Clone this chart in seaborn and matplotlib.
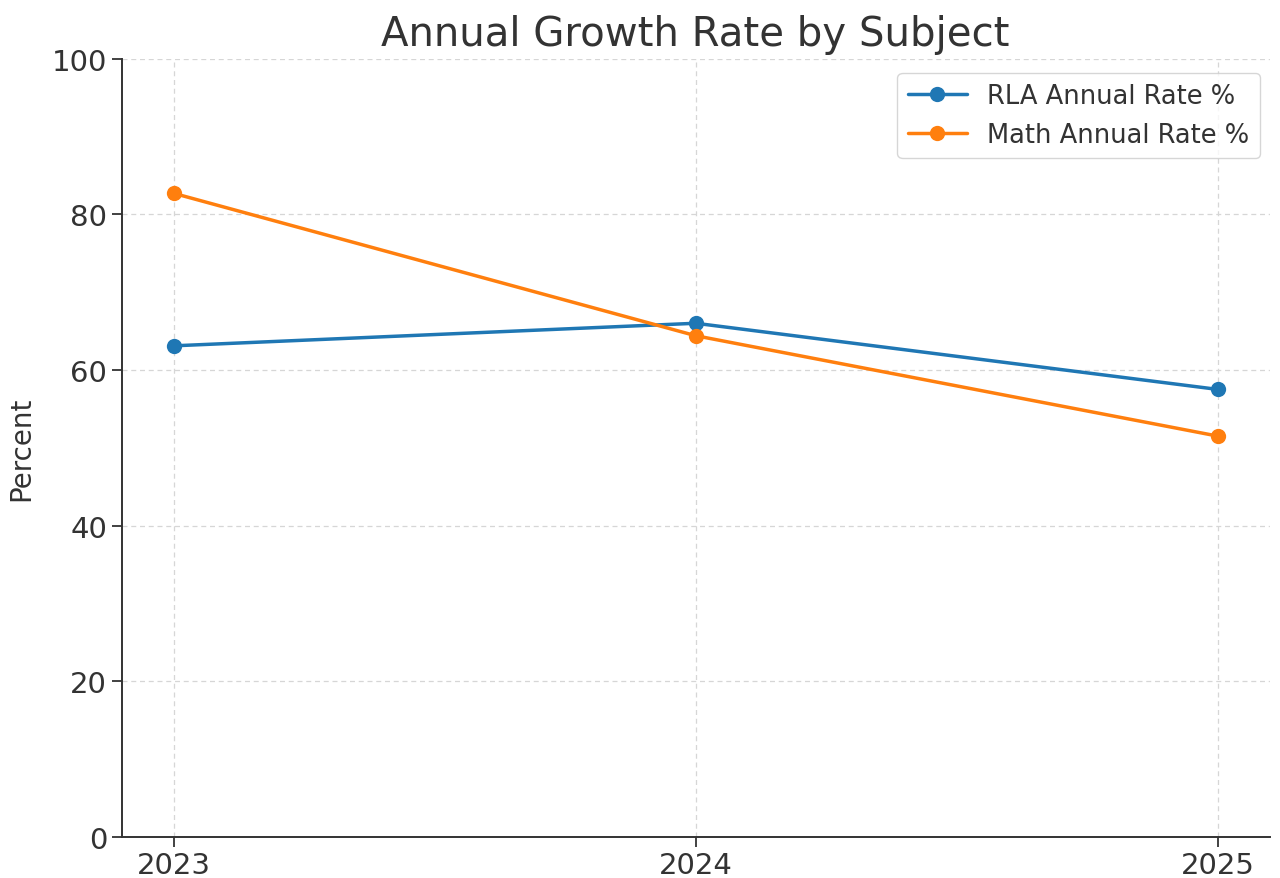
import matplotlib
matplotlib.use("Agg")
import matplotlib.pyplot as plt
import seaborn as sns
import pandas as pd

years = [2023, 2024, 2025]
rla_rate = [63.1, 66.0, 57.5]
math_rate = [82.7, 64.4, 51.5]
series_names = ["RLA Annual Rate %", "Math Annual Rate %"]

df = pd.DataFrame({
    "Year": years * 2,
    "Rate": rla_rate + math_rate,
    "Series": [series_names[0]] * 3 + [series_names[1]] * 3,
})

sns.set_style("ticks")
plt.rcParams["font.family"] = ["DejaVu Sans"]
text_color = "#333333"
plt.rcParams["text.color"] = text_color
plt.rcParams["axes.labelcolor"] = text_color
plt.rcParams["xtick.color"] = text_color
plt.rcParams["ytick.color"] = text_color

fig, ax = plt.subplots(figsize=(12.8, 8.79), dpi=100)
sns.lineplot(data=df, x="Year", y="Rate", hue="Series", marker="o",
             palette=["#1f77b4", "#ff7f0e"], linewidth=2.5, markersize=11,
             markeredgewidth=0, ax=ax)

ax.set_ylim(0, 100)
ax.set_xticks(years)
ax.set_xticklabels([str(y) for y in years])
ax.tick_params(axis="both", labelsize=21, length=7, width=1.3)
ax.set_xlabel("")
ax.set_ylabel("Percent", fontsize=20, labelpad=12)
ax.set_title("Annual Growth Rate by Subject", fontsize=29, color=text_color, pad=10)
ax.grid(True, linestyle=(0, (4, 3)), color="#d6d6d6", linewidth=0.9)
for s in ["top", "right"]:
    ax.spines[s].set_visible(False)
for s in ["left", "bottom"]:
    ax.spines[s].set_linewidth(1.4)
    ax.spines[s].set_color("#333333")

leg = ax.legend(title=None, fontsize=18.5, loc="upper right", frameon=True,
                bbox_to_anchor=(0.998, 0.992), borderaxespad=0.3, handlelength=2.3)
leg.get_frame().set_edgecolor("#cccccc")

fig.subplots_adjust(left=0.095, right=0.992, top=0.932, bottom=0.047)
fig.savefig("out.png", dpi=100)
